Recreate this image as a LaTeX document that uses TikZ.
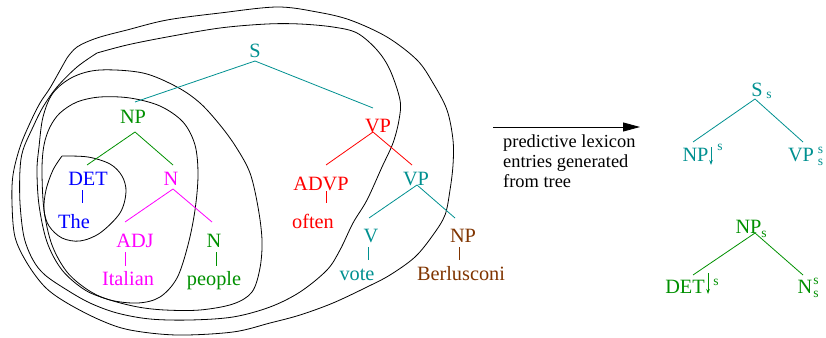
\documentclass[tikz,border=0pt]{standalone}
\usepackage{fontspec}
\setmainfont{Liberation Serif}
\newfontfamily\treefont{Liberation Serif}
\usetikzlibrary{calc,arrows.meta}

\definecolor{tteal}{RGB}{0,144,144}
\definecolor{tgreen}{RGB}{0,144,0}
\definecolor{tblue}{RGB}{0,0,255}
\definecolor{tmag}{RGB}{255,0,255}
\definecolor{tred}{RGB}{255,0,0}
\definecolor{tbrown}{RGB}{128,52,0}

\tikzset{
  lbl/.style={anchor=base, inner sep=0pt, font=\treefont\fontsize{20.3}{24}\selectfont},
  sml/.style={anchor=base, inner sep=0pt, font=\treefont\fontsize{13.5}{16}\selectfont},
  captext/.style={anchor=base west, inner sep=0pt, font=\treefont\fontsize{18.4}{20}\selectfont},
  branch/.style={line width=0.8pt},
  contour/.style={line width=0.8pt, black},
  feat/.style={line width=0.8pt, -{Stealth[length=5pt,width=3.5pt]}},
}

\begin{document}
\begin{tikzpicture}[x=1pt,y=-1pt]
\useasboundingbox (0,0) rectangle (826,337);

% ---- nested regions of the derived tree ----
\draw[contour] plot[smooth, tension=0.55] coordinates {
  (62,156) (88,157) (110,164) (122,176) (126,192) (120,213) (100,233)
  (80,241) (62,238) (49,226) (44,210) (46,190) (53,170) (62,156)};
\draw[contour] plot[smooth cycle, tension=0.55] coordinates {
  (100,97) (130,98) (160,106) (183,122) (195,145) (198,175) (195,210)
  (188,245) (177,278) (160,297) (138,303) (110,300) (88,290) (67,272)
  (52,245) (44,210) (42,170) (44,145) (50,127) (60,113) (77,102)};
\draw[contour] plot[smooth cycle, tension=0.55] coordinates {
  (100,70) (143,73) (177,87) (200,103) (220,125) (236,147) (250,173)
  (258,207) (262,240) (260,268) (252,292) (233,304) (200,310) (165,310)
  (138,307) (110,300) (85,290) (62,270) (47,242) (39,205) (37,170)
  (39,147) (43,117) (53,93) (73,77)};
\draw[contour] plot[smooth, tension=0.55] coordinates {
  (97,53) (127,45) (167,37) (220,28) (267,24) (300,24) (333,27) (357,33)
  (377,50) (390,70) (400,100) (399,120) (393,143) (382,167) (367,200)
  (353,223) (340,250) (327,270) (300,292) (270,307) (233,317) (190,320)
  (150,319) (117,313) (90,303) (67,290) (45,275) (33,260) (24,237)
  (20,203) (20,170) (23,150) (33,127) (43,107) (57,87) (77,67) (97,53)};
\draw[contour] plot[smooth, tension=0.55] coordinates {
  (67,58) (77,47) (97,38) (127,30) (167,20) (220,13) (277,7) (317,12)
  (350,20) (387,37) (417,60) (433,83) (447,110) (453,140) (453,165)
  (450,190) (445,215) (433,235) (415,257) (390,275) (367,287) (333,303)
  (300,315) (270,323) (233,332) (177,335) (130,330) (100,320) (67,303)
  (45,287) (27,263) (15,237) (12,203) (13,175) (20,147) (30,123)
  (40,103) (50,88) (63,65) (67,58)};

% ---- derived tree: labels ----
\node[lbl, tteal]  (s)       at (255,57)  {S};
\node[lbl, tgreen] (np)      at (133,123) {NP};
\node[lbl, tblue]  (det)     at (88,185)  {DET};
\node[lbl, tblue]  (the)     at (74,228)  {The};
\node[lbl, tmag]   (n1)      at (171,185) {N};
\node[lbl, tmag]   (adj)     at (135,247) {ADJ};
\node[lbl, tmag]   (italian) at (128,285) {Italian};
\node[lbl, tgreen] (n2)      at (214,247) {N};
\node[lbl, tgreen] (people)  at (214,285) {people};
\node[lbl, tred]   (vp1)     at (378,132) {VP};
\node[lbl, tred]   (advp)    at (321,190) {ADVP};
\node[lbl, tred]   (often)   at (313,228) {often};
\node[lbl, tteal]  (vp2)     at (416,185) {VP};
\node[lbl, tteal]  (v)       at (371,242) {V};
\node[lbl, tteal]  (vote)    at (357,280) {vote};
\node[lbl, tbrown] (np2)     at (463,242) {NP};
\node[lbl, tbrown] (berl)    at (461,280) {Berlusconi};

% ---- derived tree: branches ----
\draw[branch, tteal] ($(s.base)+(0,4)$) -- ($(np.base)+(2,-21)$);
\draw[branch, tteal] ($(s.base)+(0,4)$) -- ($(vp1.base)+(-5,-24)$);
\draw[branch, tgreen] ($(np.base)+(2,9)$) -- ($(det.base)+(-1,-20)$);
\draw[branch, tgreen] ($(np.base)+(2,9)$) -- ($(n1.base)+(2,-20)$);
\draw[branch, tblue] ($(det.base)+(-6,5)$) -- ($(the.base)+(8,-25)$);
\draw[branch, tmag] ($(n1.base)+(2,4)$) -- ($(adj.base)+(-10,-25)$);
\draw[branch, tmag] ($(n1.base)+(2,4)$) -- ($(n2.base)+(-2,-25)$);
\draw[branch, tmag] ($(adj.base)+(-10,5)$) -- ($(italian.base)+(-3,-19)$);
\draw[branch, tgreen] ($(n2.base)+(2,5)$) -- ($(people.base)+(2,-19)$);
\draw[branch, tred] ($(vp1.base)+(-5,0)$) -- ($(advp.base)+(5,-25)$);
\draw[branch, tred] ($(vp1.base)+(-5,0)$) -- ($(vp2.base)+(-4,-20)$);
\draw[branch, tred] ($(advp.base)+(5,1)$) -- ($(often.base)+(13,-25)$);
\draw[branch, tteal] ($(vp2.base)+(1,0)$) -- ($(v.base)+(-2,-24)$);
\draw[branch, tteal] ($(vp2.base)+(1,0)$) -- ($(np2.base)+(-8,-24)$);
\draw[branch, tteal] ($(v.base)+(-3,5)$) -- ($(vote.base)+(11,-20)$);
\draw[branch, tbrown] ($(np2.base)+(-4,5)$) -- ($(berl.base)+(-2,-20)$);

% ---- arrow and its caption ----
\coordinate (a0) at (493,127);
\coordinate (a1) at (640,127);
\draw[line width=0.8pt, -{Triangle[length=17pt,width=9pt]}] (a0) -- (a1);
\node[captext] (cap1) at (503,147) {predictive lexicon};
\node[captext] (cap2) at (503,167) {entries generated};
\node[captext] (cap3) at (503,187) {from tree};

% ---- lexicon entry for S ----
\node[lbl, tteal] (rs)     at (757,96)    {S};
\node[sml, tteal] (rssub)  at (769,98)    {s};
\node[lbl, tteal] (rnp)    at (695.5,161) {NP};
\node[sml, tteal] (rnpsup) at (720,150)   {s};
\node[lbl, tteal] (rvp)    at (801,161)   {VP};
\node[sml, tteal] (rvpsup) at (820.5,153) {s};
\node[sml, tteal] (rvpsub) at (820.5,165) {s};
\draw[branch, tteal] ($(rs.base)+(-2,3)$) -- ($(rnp.base)+(-2.5,-19)$);
\draw[branch, tteal] ($(rs.base)+(-2,3)$) -- ($(rvp.base)+(2,-19)$);
\draw[feat, tteal] ($(rnp.base)+(15.5,-14)$) -- ($(rnp.base)+(15.5,4)$);

% ---- lexicon entry for NP ----
\node[lbl, tgreen] (rnp2)    at (748.5,233) {NP};
\node[sml, tgreen] (rnp2sub) at (764,237)   {s};
\node[lbl, tgreen] (rdet)    at (685,293)   {DET};
\node[sml, tgreen] (rdetsup) at (716,285)   {s};
\node[lbl, tgreen] (rn)      at (805,293)   {N};
\node[sml, tgreen] (rnsup)   at (816,284)   {s};
\node[sml, tgreen] (rnsub)   at (816,297)   {s};
\draw[branch, tgreen] ($(rnp2.base)+(6.5,0)$) -- ($(rdet.base)+(8,-18)$);
\draw[branch, tgreen] ($(rnp2.base)+(6.5,0)$) -- ($(rn.base)+(-2,-18)$);
\draw[feat, tgreen] ($(rdet.base)+(23,-20)$) -- ($(rdet.base)+(23,1)$);
\end{tikzpicture}
\end{document}
